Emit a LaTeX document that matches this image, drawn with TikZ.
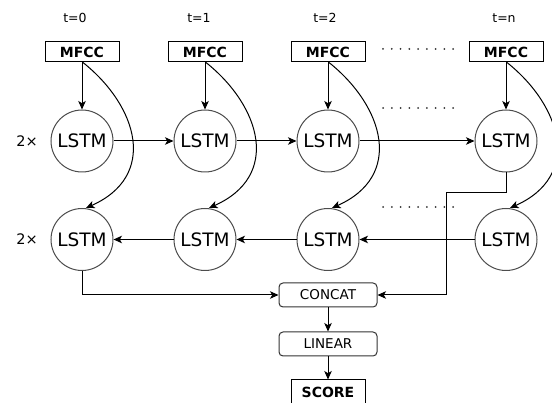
\documentclass[tikz,border=0pt]{standalone}
\usepackage{fontspec}
\setmainfont{DejaVu Sans}
\usetikzlibrary{arrows.meta,calc}
\begin{document}
\begin{tikzpicture}[x=1pt,y=-1pt,
  arr/.style={draw=black, line width=1pt, -{Stealth[length=8.5pt,width=7.5pt,inset=2.2pt]}},
  lstm/.style={circle, draw=black!70, line width=1pt, minimum size=62pt, inner sep=0pt, font=\fontsize{18.5}{21}\selectfont},
  mfcc/.style={rectangle, draw=black, line width=1pt, minimum width=74pt, minimum height=20pt, inner sep=0pt, font=\bfseries\fontsize{14}{16}\selectfont},
  opbox/.style={rectangle, rounded corners=4pt, draw=black!80, line width=1pt, minimum width=98pt, minimum height=24pt, inner sep=0pt, font=\fontsize{13.5}{16}\selectfont},
  tlab/.style={font=\fontsize{12.5}{14}\selectfont, inner sep=0pt},
  rep/.style={font=\fontsize{14.5}{16}\selectfont, inner sep=0pt},
  dotrow/.style={fill=black!80}
]
\useasboundingbox (0,0) rectangle (552,403);

% time labels
\node[tlab] (t0) at (75,18) {t=0};
\node[tlab] (t1) at (199,18) {t=1};
\node[tlab] (t2) at (325,18) {t=2};
\node[tlab] (tn) at (504,18) {t=n};

% MFCC inputs
\node[mfcc] (m0) at (82,52) {MFCC};
\node[mfcc] (m1) at (205,52) {MFCC};
\node[mfcc] (m2) at (328,52) {MFCC};
\node[mfcc] (mn) at (506,52) {MFCC};

% forward LSTMs
\node[lstm] (f0) at (82,141) {LSTM};
\node[lstm] (f1) at (205,141) {LSTM};
\node[lstm] (f2) at (328,141) {LSTM};
\node[lstm] (fn) at (506,141) {LSTM};

% backward LSTMs
\node[lstm] (b0) at (82,239.5) {LSTM};
\node[lstm] (b1) at (205,239.5) {LSTM};
\node[lstm] (b2) at (328,239.5) {LSTM};
\node[lstm] (bn) at (506,239.5) {LSTM};

% repetition labels
\node[rep] (r1) at (27,141) {2×};
\node[rep] (r2) at (27,239.5) {2×};

% head
\node[opbox] (concat) at (328,295) {CONCAT};
\node[opbox] (linear) at (328,344) {LINEAR};
\node[mfcc, minimum height=24pt] (score) at (328,392) {SCORE};

% dotted gaps
\foreach \yy in {49,108,207}{
  \foreach \k in {0,...,8}{
    \fill[dotrow] (383+8.75*\k,\yy) circle (1pt);
  }
}

% inputs to forward LSTMs
\foreach \c in {0,1,2,n}{
  \draw[arr] (m\c.south) -- (f\c.north);
}

% inputs to backward LSTMs (curved)
\foreach \c in {0,1,2,n}{
  \draw[arr] ($(m\c.south)+(1,0)$) .. controls ($(m\c.south)+(56,44)$) and ($(b\c.north)+(76,-32)$) .. ($(b\c.north)+(4,0)$);
}

% forward chain
\draw[arr] (f0.east) -- (f1.west);
\draw[arr] (f1.east) -- (f2.west);
\draw[arr] (f2.east) -- (fn.west);

% backward chain
\draw[arr] (bn.west) -- (b2.east);
\draw[arr] (b2.west) -- (b1.east);
\draw[arr] (b1.west) -- (b0.east);

% to concat
\coordinate (k1) at (446,193);
\draw[arr] (b0.south) |- (concat.west);
\draw[arr] (fn.south) |- (k1) |- (concat.east);

\draw[arr] (concat.south) -- (linear.north);
\draw[arr] (linear.south) -- (score.north);
\end{tikzpicture}
\end{document}
